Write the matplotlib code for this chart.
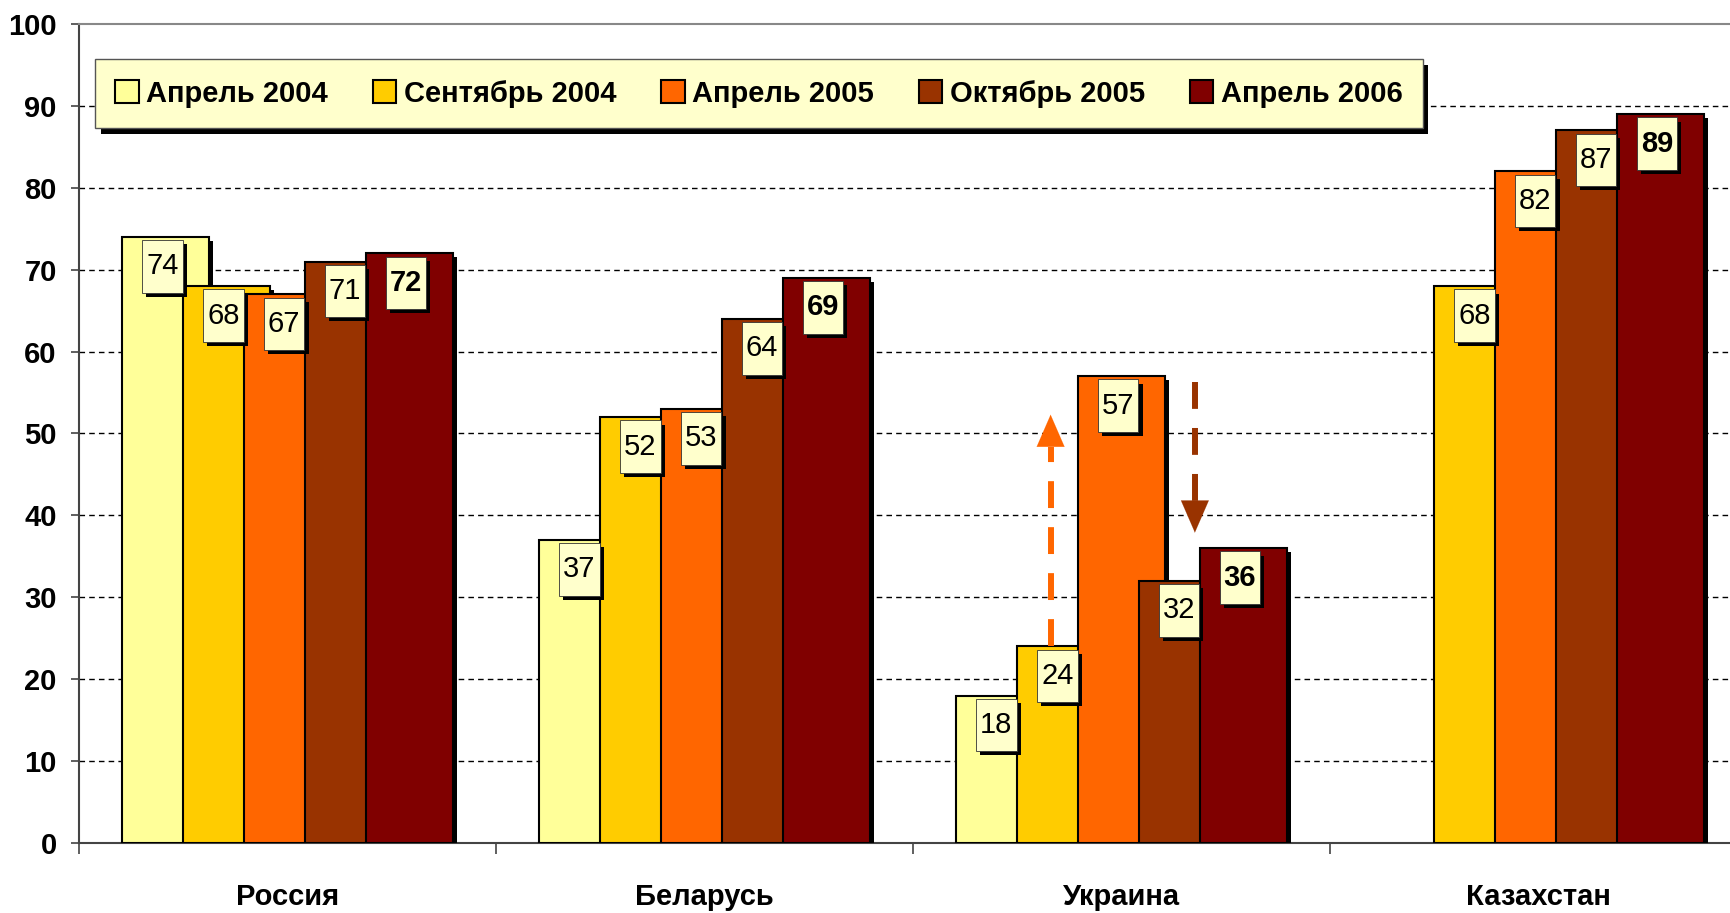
import numpy as np
import matplotlib
matplotlib.use("Agg")
import matplotlib.pyplot as plt
import matplotlib.patheffects as pe
from matplotlib.patches import Patch, Rectangle
from matplotlib.ticker import FixedLocator

plt.rcParams['font.family'] = ['Liberation Sans Narrow', 'Liberation Sans', 'DejaVu Sans']

categories = ['Россия', 'Беларусь', 'Украина', 'Казахстан']
series = ['Апрель 2004', 'Сентябрь 2004', 'Апрель 2005', 'Октябрь 2005', 'Апрель 2006']
apr2004 = [74, 37, 18, np.nan]
sep2004 = [68, 52, 24, 68]
apr2005 = [67, 53, 57, 82]
oct2005 = [71, 64, 32, 87]
apr2006 = [72, 69, 36, 89]
colors = ['#FFFF99', '#FFCC00', '#FF6600', '#993300', '#800000']
yticks = list(range(0, 101, 10))

# arrows on Ukraine: (x offset from group centre, start, end, colour)
arrow_up = (-0.170, 24, 52.3, '#FF6600')
arrow_down = (0.176, 56.3, 37.9, '#993300')

values = [apr2004, sep2004, apr2005, oct2005, apr2006]

fig = plt.figure(figsize=(17.31, 9.13), dpi=100)
ax = fig.add_axes([79 / 1731, 70 / 913, 1668 / 1731, 819 / 913])

x = np.arange(len(categories))
step = 0.146
width = 0.209
box_w, box_h = 0.097, 6.4


def shadow(o=3):
    return [pe.SimplePatchShadow(offset=(o, -o), shadow_rgbFace='black', alpha=1), pe.Normal()]


for k, vals in enumerate(values):
    vals = np.array(vals, dtype=float)
    ok = ~np.isnan(vals)
    xs = x[ok] + (k - 2) * step
    bars = ax.bar(xs, vals[ok], width, color=colors[k], edgecolor='black',
                  linewidth=1.5, zorder=3 + k)
    for b in bars:
        b.set_path_effects(shadow())
    for xi, v in zip(xs, vals[ok]):
        xc = xi - 0.008
        top = v - 0.4
        r = Rectangle((xc - box_w / 2, top - box_h), box_w, box_h, facecolor='#FFFFCC',
                      edgecolor='#333333', linewidth=0.6, zorder=20)
        r.set_path_effects(shadow())
        ax.add_patch(r)
        ax.text(xc, top - box_h / 2, f'{v:.0f}', ha='center', va='center',
                fontsize=21, fontweight='bold' if k == 4 else 'normal', zorder=21)

# dashed arrows
for dx, y0, y1, col in [arrow_up, arrow_down]:
    xa = x[2] + dx
    sign = 1 if y1 > y0 else -1
    head = 3.9
    ax.plot([xa, xa], [y0, y1 - sign * head], color=col, lw=4.3,
            linestyle=(0, (4.5, 3.2)), zorder=15, dash_capstyle='butt')
    ax.annotate('', xy=(xa, y1), xytext=(xa, y1 - sign * head),
                arrowprops=dict(arrowstyle='-|>,head_length=2.3,head_width=1.0',
                                color=col, lw=0.1, shrinkA=0, shrinkB=0),
                zorder=15)

ax.set_xlim(-0.5, 3.5)
ax.set_ylim(0, 100)
ax.set_yticks(yticks)
ax.set_yticklabels([str(v) for v in yticks], fontsize=21, fontweight='bold')
ax.tick_params(axis='y', direction='out', length=6, width=1.2, color='#444444', pad=10)

ax.xaxis.set_major_locator(FixedLocator([-0.5, 0.5, 1.5, 2.5]))
ax.xaxis.set_minor_locator(FixedLocator(x))
ax.set_xticklabels([])
ax.set_xticklabels(categories, minor=True, fontsize=21, fontweight='bold')
ax.tick_params(axis='x', which='major', direction='out', length=8, width=1.2, color='#444444')
ax.tick_params(axis='x', which='minor', length=0, pad=29)

ax.yaxis.grid(True, linestyle=(0, (4, 3)), color='black', linewidth=1)
ax.set_axisbelow(True)
ax.get_ygridlines()[-1].set_visible(False)
ax.get_ygridlines()[0].set_visible(False)

ax.spines['top'].set_color('#888888')
ax.spines['top'].set_linewidth(1.5)
ax.spines['left'].set_color('#444444')
ax.spines['left'].set_linewidth(1.5)
ax.spines['bottom'].set_color('#444444')
ax.spines['bottom'].set_linewidth(1.5)
ax.spines['right'].set_visible(False)

handles = [Patch(facecolor=c, edgecolor='black', linewidth=1.5) for c in colors]
leg = ax.legend(handles, series, loc='upper left', bbox_to_anchor=(0.0096, 0.957),
                ncol=5, fancybox=False, frameon=True, borderaxespad=0,
                prop={'size': 21, 'weight': 'bold'}, handlelength=0.8, handleheight=0.8,
                handletextpad=0.25, columnspacing=1.55, borderpad=0.7)
frame = leg.get_frame()
frame.set_facecolor('#FFFFCC')
frame.set_edgecolor('#555555')
frame.set_linewidth(1)
frame.set_alpha(1)
frame.set_path_effects(shadow(4))
leg.set_zorder(30)

fig.savefig('out.png', dpi=100, facecolor='white')
